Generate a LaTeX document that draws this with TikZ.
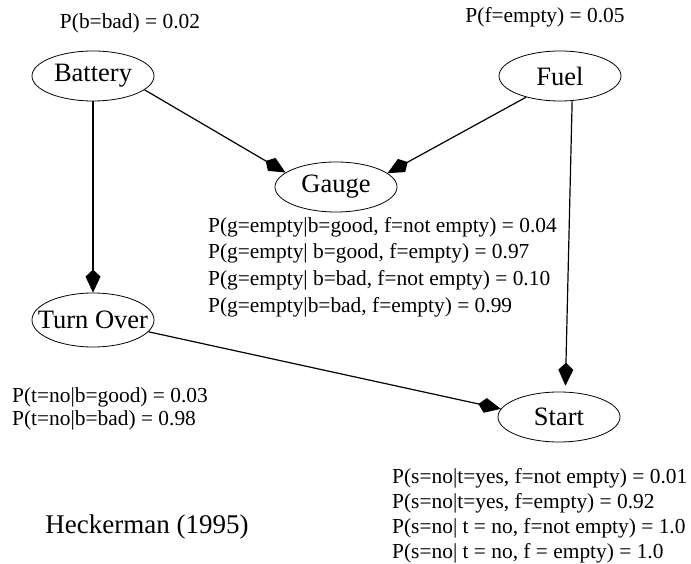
\documentclass[tikz,border=0pt]{standalone}
\usepackage{fontspec}
\setmainfont{Liberation Serif}
\usetikzlibrary{shapes.geometric, arrows.meta}

\tikzset{
  var/.style={draw, ellipse, minimum width=122pt, minimum height=50pt, inner sep=0pt, line width=0.8pt, font=\fontsize{26.5}{30}\selectfont},
  cpt/.style={inner sep=0pt, align=left},
  link/.style={line width=1.2pt, -{Kite[length=23pt,width=15pt,inset=7pt]}}
}

\begin{document}
\begin{tikzpicture}[x=1pt,y=-1pt]
\useasboundingbox (0,0) rectangle (691,564);

\node[var] (battery) at (93,76) {Battery};
\node[var] (fuel) at (560,76) {Fuel};
\node[var] (gauge) at (336,187) {Gauge};
\node[var, inner xsep=-20pt, minimum height=54pt] (turnover) at (93,320) {Turn Over};
\node[var] (start) at (559,417) {Start};

% priors
\node[cpt, font=\fontsize{21.4}{24}\selectfont] (pbattery) at (130,23) {P(b=bad) = 0.02};
\node[cpt, font=\fontsize{21.4}{24}\selectfont] (pfuel) at (545,17) {P(f=empty) = 0.05};

% conditionals
\node[cpt, anchor=west, font=\fontsize{21.4}{26.7}\selectfont] (pgauge) at (208,267) {P(g=empty|b=good, f=not empty) = 0.04\\
P(g=empty| b=good, f=empty) = 0.97\\
P(g=empty| b=bad, f=not empty) = 0.10\\
P(g=empty|b=bad, f=empty) = 0.99};
\node[cpt, anchor=west, font=\fontsize{21.4}{23}\selectfont] (pturnover) at (12,408.5) {P(t=no|b=good) = 0.03\\
P(t=no|b=bad) = 0.98};
\node[cpt, anchor=west, font=\fontsize{21.4}{25}\selectfont] (pstart) at (392,515.5) {P(s=no|t=yes, f=not empty) = 0.01\\
P(s=no|t=yes, f=empty) = 0.92\\
P(s=no| t = no, f=not empty) = 1.0\\
P(s=no| t = no, f = empty) = 1.0};

\node[cpt, font=\fontsize{27}{30}\selectfont] (source) at (147,527) {Heckerman (1995)};

\draw[link] (battery.-15) -- (gauge.164);
\draw[link] (fuel.212) -- (gauge.15);
\draw[link] (battery.south) -- (turnover.north);
\draw[link, shorten >=6pt] (fuel.-64) -- (start.76);
\draw[link] (turnover.-12) -- (start.172);
\end{tikzpicture}
\end{document}
